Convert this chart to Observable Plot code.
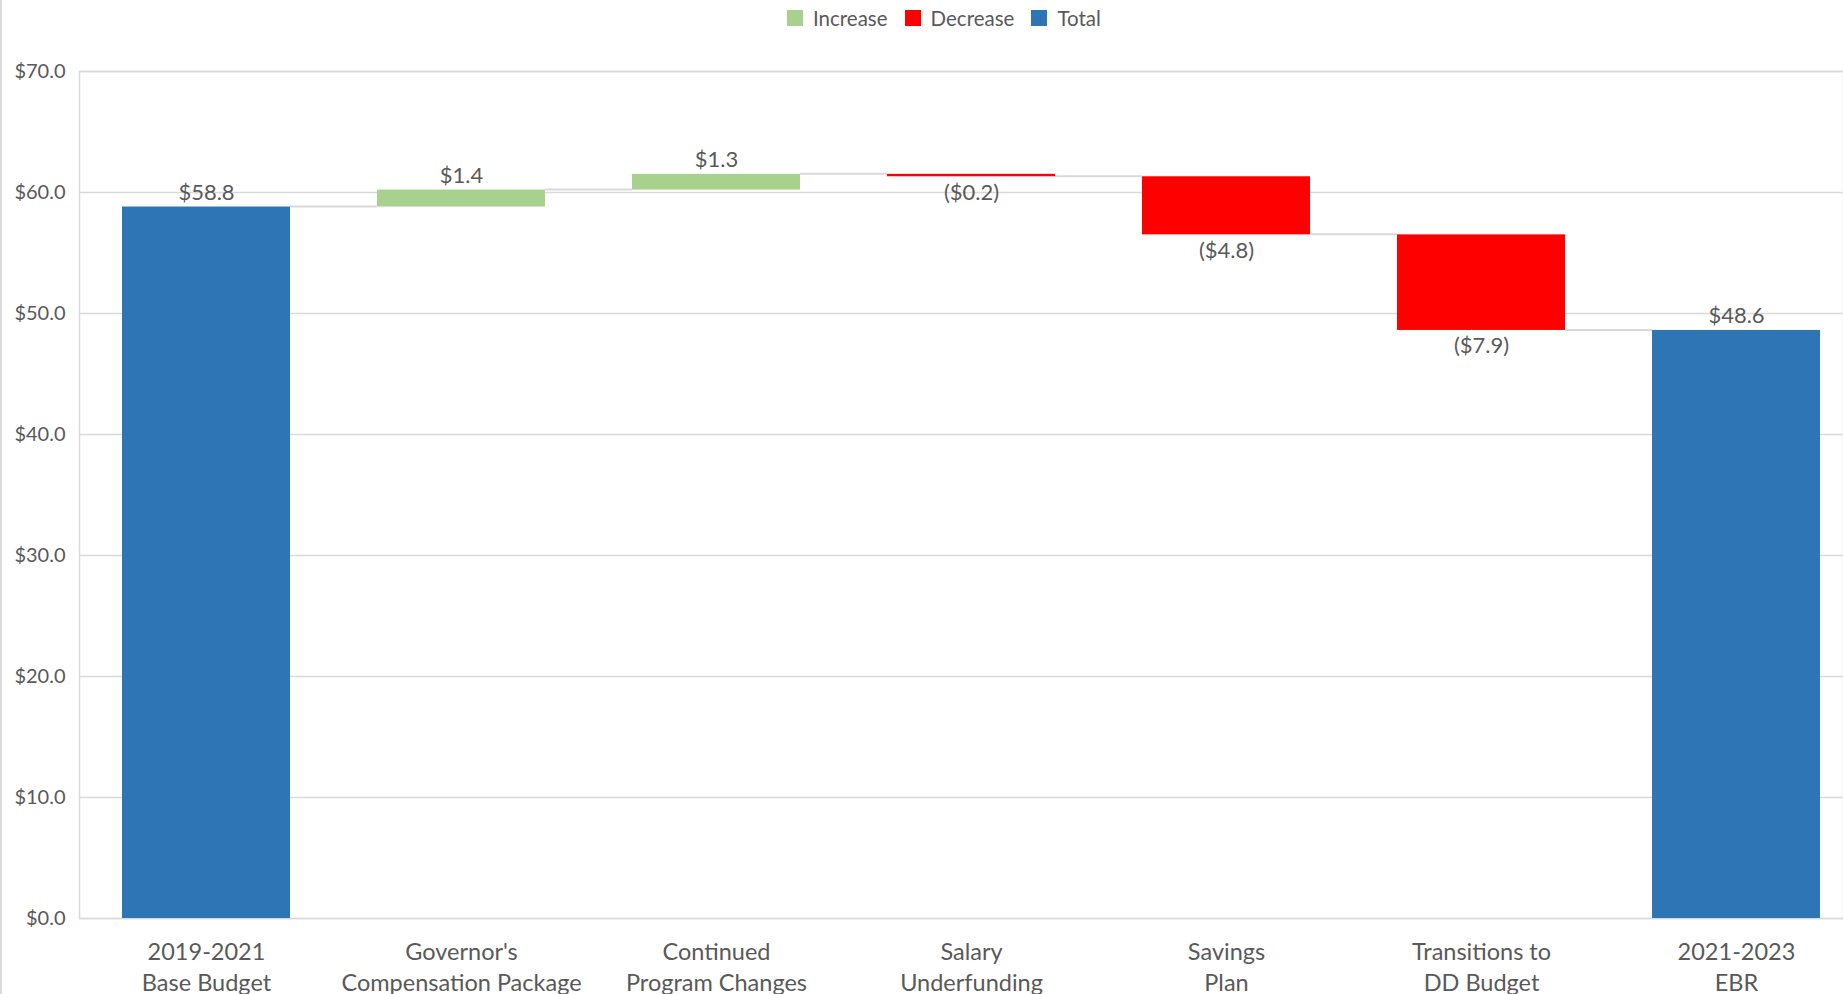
<!DOCTYPE html>
<html><head><meta charset="utf-8">
<script src="https://cdn.jsdelivr.net/npm/d3@7"></script>
<script src="https://cdn.jsdelivr.net/npm/@observablehq/plot@0.6"></script>
<style>
body{margin:0;background:#fff;font-family:Lato,sans-serif;overflow:hidden}
#wrap{position:relative;width:1843px;height:994px;overflow:hidden}
#frameLine{position:absolute;left:0;top:0;width:2px;height:994px;background:#d9d9d9}
#legend{height:36px;display:flex;align-items:center;padding-left:787px;color:#595959;font-size:20.5px}
.item{display:flex;align-items:center;margin-right:17px}
.sw{width:16px;height:16px;margin-right:10px}
</style></head>
<body>
<div id="wrap"><div id="frameLine"></div><div id="legend"></div><div id="chart"></div></div>
<script>
const categories = ["2019-2021\nBase Budget", "Governor's\nCompensation Package", "Continued\nProgram Changes", "Salary\nUnderfunding", "Savings\nPlan", "Transitions to\nDD Budget", "2021-2023\nEBR"];
const amounts = [58.8, 1.4, 1.3, -0.2, -4.8, -7.9, 48.6];
const kinds = ["Total", "Increase", "Increase", "Decrease", "Decrease", "Decrease", "Total"];
const legendKinds = ["Increase", "Decrease", "Total"];
const legendColors = ["#a9d18e", "#ff0000", "#2e75b6"];
const yTicks = [0, 10, 20, 30, 40, 50, 60, 70];

// build waterfall table
let running = 0;
const rows = categories.map((c, i) => {
  const k = kinds[i], a = amounts[i];
  let y1, y2;
  if (k === "Total") { y1 = 0; y2 = a; running = a; }
  else { y1 = running; y2 = running + a; running = y2; }
  const label = a < 0 ? "($" + Math.abs(a).toFixed(1) + ")" : "$" + a.toFixed(1);
  return {cat: c, kind: k, y1, y2, end: running, label, top: Math.max(y1, y2), bottom: Math.min(y1, y2)};
});

const leg = document.getElementById("legend");
legendKinds.forEach((k, i) => {
  const d = document.createElement("div"); d.className = "item";
  d.innerHTML = `<div class="sw" style="background:${legendColors[i]}"></div><span>${k}</span>`;
  leg.appendChild(d);
});

const W = 1843, H = 958;
const plot = Plot.plot({
  width: W, height: H,
  marginLeft: 79, marginRight: 0, marginTop: 35, marginBottom: 76,
  style: {fontFamily: "Lato, sans-serif", color: "#595959", background: "transparent"},
  x: {type: "band", domain: categories, range: [79, 1864], paddingInner: 0.34, paddingOuter: 0.17, label: null},
  y: {domain: [0, 70], range: [882, 35], label: null},
  color: {domain: legendKinds, range: legendColors},
  marks: [
    Plot.ruleY(yTicks, {y: d => d, stroke: "#d9d9d9", strokeWidth: 1.5}),
    Plot.frame({stroke: "#d9d9d9", strokeWidth: 1.5}),
    Plot.axisY(yTicks, {tickSize: 0, tickPadding: 14, fontSize: 20, tickFormat: d => "$" + d.toFixed(1), fill: "#595959", label: null}),
    Plot.axisX({tickSize: 0, tickPadding: 19, fontSize: 23.5, lineHeight: 1.32, fill: "#595959", label: null}),
    Plot.barY(rows, {x: "cat", y1: "y1", y2: "y2", fill: "kind"}),
    Plot.text(rows.filter(d => d.kind !== "Decrease"), {x: "cat", y: "top", text: "label", dy: -14, fontSize: 22, fill: "#595959"}),
    Plot.text(rows.filter(d => d.kind === "Decrease"), {x: "cat", y: "bottom", text: "label", dy: 16, fontSize: 22, fill: "#595959"})
  ]
});
document.getElementById("chart").appendChild(plot);

// connectors via the plot's own scales
const xs = plot.scale("x"), ys = plot.scale("y");
const svg = d3.select(plot);
const g = svg.append("g").attr("stroke", "#d9d9d9").attr("stroke-width", 2);
for (let i = 0; i < rows.length - 1; i++) {
  const x1 = xs.apply(rows[i].cat) + xs.bandwidth;
  const x2 = xs.apply(rows[i + 1].cat);
  const y = ys.apply(rows[i].end);
  g.append("line").attr("x1", x1).attr("x2", x2).attr("y1", y).attr("y2", y);
}
</script>
</body></html>
